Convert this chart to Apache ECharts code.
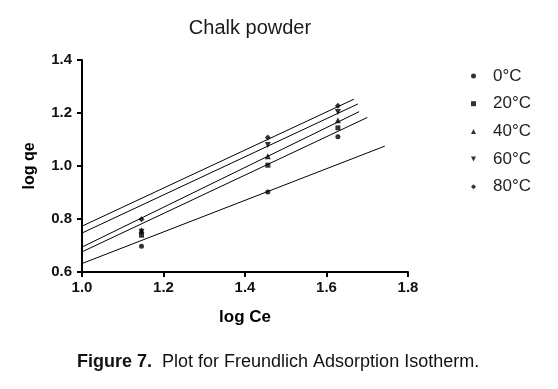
<!DOCTYPE html>
<html><head><meta charset="utf-8">
<script src="https://cdn.jsdelivr.net/npm/echarts@6/dist/echarts.min.js"></script>
<style>html,body{margin:0;padding:0;background:#fff}#c{width:558px;height:389px}</style>
</head><body><div id="c"></div>
<script>
const seriesNames = ['0°C','20°C','40°C','60°C','80°C'];
const logCe = [1.146, 1.456, 1.628];
const logQe0 = [0.697, 0.902, 1.110];
const logQe20 = [0.739, 1.003, 1.144];
const logQe40 = [0.758, 1.037, 1.173];
const logQe60 = [0.752, 1.079, 1.204];
const logQe80 = [0.799, 1.108, 1.227];
// fitted line endpoints [x, y]
const fit0 = [[1.0, 0.632],[1.743, 1.075]];
const fit20 = [[1.0, 0.676],[1.700, 1.183]];
const fit40 = [[1.0, 0.694],[1.680, 1.205]];
const fit60 = [[1.0, 0.747],[1.677, 1.234]];
const fit80 = [[1.0, 0.773],[1.667, 1.252]];
const xTicks = [1.0, 1.2, 1.4, 1.6, 1.8];
const yTicks = [0.6, 0.8, 1.0, 1.2, 1.4];

const allQe = [logQe0, logQe20, logQe40, logQe60, logQe80];
const fits = [fit0, fit20, fit40, fit60, fit80];
const downTri = 'path://M0,0 L10,0 L5,10 Z';
const symbols = ['circle','rect','triangle',downTri,'diamond'];
const sizes = [5,5,6,6,6];
const FONT = 'Liberation Sans, Arial, sans-serif';

const series = [];
fits.forEach((f,i)=>{
  series.push({type:'line', name:'fit'+i, data:f, symbol:'none', silent:true,
    lineStyle:{color:'#000', width:1}, z:1});
});
allQe.forEach((q,i)=>{
  series.push({type:'scatter', name:seriesNames[i],
    data: logCe.map((x,j)=>[x,q[j]]),
    symbol:symbols[i], symbolSize:sizes[i],
    itemStyle:{color:'#000'}, z:3});
});

const chart = echarts.init(document.getElementById('c'), null, {renderer:'canvas'});
chart.setOption({
  animation:false,
  backgroundColor:'#fff',
  title:{text:'Chalk powder', left:245, top:13, textAlign:'center',
    textStyle:{fontFamily:FONT, fontSize:20, fontWeight:'normal', color:'#1a1a1a'}},
  grid:{left:82, right:150, top:60, bottom:117, containLabel:false},
  xAxis:{type:'value', min:1.0, max:1.8, interval:0.2,
    name:'log Ce', nameLocation:'middle', nameGap:37,
    nameTextStyle:{fontFamily:FONT, fontSize:17, fontWeight:'bold', color:'#000'},
    axisLine:{lineStyle:{color:'#000', width:2}},
    axisTick:{show:true, length:5, lineStyle:{color:'#000', width:2}},
    axisLabel:{fontFamily:FONT, fontSize:15, fontWeight:'bold', color:'#111', margin:8,
      formatter:v=>v.toFixed(1)},
    splitLine:{show:false}},
  yAxis:{type:'value', min:0.6, max:1.4, interval:0.2,
    name:'log qe', nameLocation:'middle', nameGap:44, nameRotate:90,
    nameTextStyle:{fontFamily:FONT, fontSize:16, fontWeight:'bold', color:'#000'},
    axisLine:{show:true, lineStyle:{color:'#000', width:2}},
    axisTick:{show:true, length:5, lineStyle:{color:'#000', width:2}},
    axisLabel:{fontFamily:FONT, fontSize:15, fontWeight:'bold', color:'#111', margin:10,
      formatter:v=>v.toFixed(1)},
    splitLine:{show:false}},
  legend:{data:seriesNames.map((n,i)=>({name:n, icon:symbols[i]})), orient:'vertical', left:466, top:61,
    itemWidth:5, itemHeight:5, itemGap:7.7,
    textStyle:{fontFamily:FONT, fontSize:17, color:'#222', padding:[0,0,0,12], lineHeight:20}},
  series: series,
  graphic:[{type:'text', left:77, top:353,
    style:{text:'{b|Figure 7.}  Plot for Freundlich Adsorption Isotherm.',
      rich:{b:{fontWeight:'bold', fontSize:18, fontFamily:FONT, fill:'#111'}},
      font:'18px Liberation Sans, Arial, sans-serif', fill:'#111'}}]
});
</script></body></html>
